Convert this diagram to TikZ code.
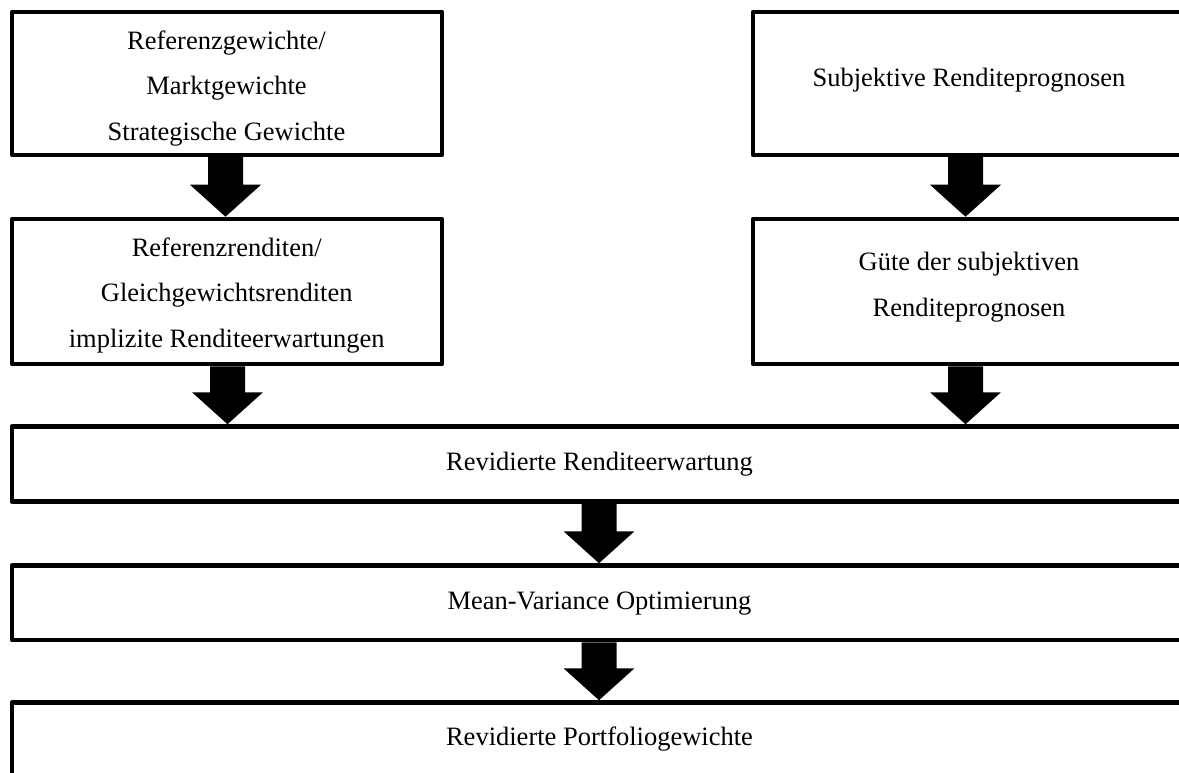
\documentclass[tikz,border=0pt]{standalone}
\usepackage{fontspec}
\setmainfont{Liberation Serif}
\usetikzlibrary{calc}
\tikzset{
  box/.style={draw=black, line width=4.5pt, line join=round, fill=white, inner sep=0pt},
  txt/.style={inner sep=0pt, anchor=base, font=\fontsize{26.5}{30}\selectfont},
  arrowfill/.style={fill=black},
}
\newcommand\blockarr[3]{%
  \path (#1,0 |- #2) coordinate (bas) (#1,0 |- #3) coordinate (tip);
  \fill[arrowfill] ($(bas)+(-17.5,0)$) -- ($(tip)+(-17.5,-32)$) -- ($(tip)+(-35.5,-32)$) -- (tip)
    -- ($(tip)+(35.5,-32)$) -- ($(tip)+(17.5,-32)$) -- ($(bas)+(17.5,0)$) -- cycle;}
\begin{document}
\begin{tikzpicture}[x=1pt,y=-1pt]
\useasboundingbox (0,0) rectangle (1179,773);
\clip (0,0) rectangle (1179,773);
\fill[white] (0,0) rectangle (1179,773);
% boxes
\node[box, minimum width=430, minimum height=143] (b1) at (227,83.5) {};
\node[box, minimum width=430, minimum height=145] (b2) at (227,291.5) {};
\node[box, minimum width=431, minimum height=143] (b3) at (968.5,83.5) {};
\node[box, minimum width=431, minimum height=145] (b4) at (968.5,291.5) {};
\node[box, minimum width=1174, minimum height=75] (b5) at (599,464) {};
\node[box, minimum width=1174, minimum height=74.5] (b6) at (599,602.75) {};
\node[box, minimum width=1174, minimum height=77.5] (b7) at (599,741.25) {};
% texts
\node[txt] (t1a) at (226.5,49.3) {Referenzgewichte/};
\node[txt] (t1b) at (226.5,95) {Marktgewichte};
\node[txt] (t1c) at (226.5,140.7) {Strategische Gewichte};
\node[txt] (t2a) at (226.7,256) {Referenzrenditen/};
\node[txt] (t2b) at (226.7,301.7) {Gleichgewichtsrenditen};
\node[txt] (t2c) at (226.7,347.5) {implizite Renditeerwartungen};
\node[txt] (t3) at (969,86.7) {Subjektive Renditeprognosen};
\node[txt] (t4a) at (969,270.7) {Güte der subjektiven};
\node[txt] (t4b) at (969,316) {Renditeprognosen};
\node[txt] (t5) at (599.5,470) {Revidierte Renditeerwartung};
\node[txt] (t6) at (599.5,609) {Mean-Variance Optimierung};
\node[txt] (t7) at (599.5,745.5) {Revidierte Portfoliogewichte};
% arrows
\blockarr{225.5}{b1.south}{b2.north}
\blockarr{965.5}{b3.south}{b4.north}
\blockarr{227.5}{b2.south}{b5.north}
\blockarr{965.5}{b4.south}{b5.north}
\blockarr{599}{b5.south}{b6.north}
\blockarr{599}{b6.south}{b7.north}
\end{tikzpicture}
\end{document}
